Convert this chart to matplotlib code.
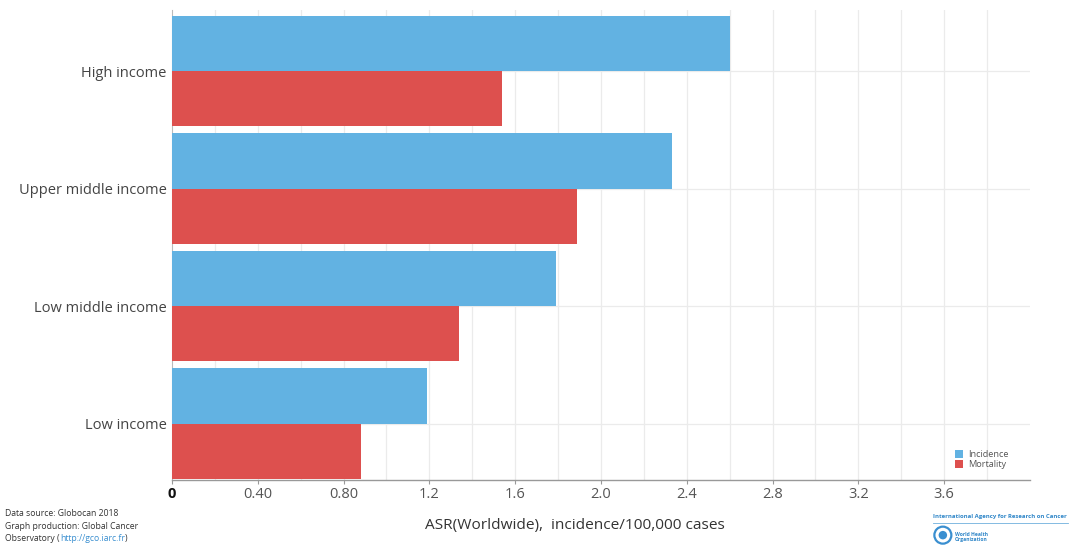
import matplotlib
matplotlib.use("Agg")
import matplotlib.pyplot as plt
import numpy as np
from matplotlib.patches import Ellipse

plt.rcParams['font.family'] = ['Open Sans', 'DejaVu Sans']

categories = ["High income", "Upper middle income", "Low middle income", "Low income"]
incidence = [2.60, 2.33, 1.79, 1.19]
mortality = [1.54, 1.89, 1.34, 0.88]
xtick_values = [0, 0.4, 0.8, 1.2, 1.6, 2.0, 2.4, 2.8, 3.2, 3.6]
xtick_labels = ["0", "0.40", "0.80", "1.2", "1.6", "2.0", "2.4", "2.8", "3.2", "3.6"]

BLUE = "#62b2e2"
RED = "#dd504e"
GRID = "#ebebeb"

W, H = 1069, 550
fig = plt.figure(figsize=(W / 100, H / 100), dpi=100)
ax = fig.add_axes([0.1609, 0.1273, 0.8026, 0.8545])

n = len(categories)
ypos = np.arange(n)[::-1]  # first category on top
h = 0.47
ax.barh(ypos + h / 2, incidence, height=h, color=BLUE, zorder=3, label="Incidence")
ax.barh(ypos - h / 2, mortality, height=h, color=RED, zorder=3, label="Mortality")

ax.set_xlim(0, 4.0)
ax.set_ylim(-0.48, n - 0.48)

# grid: vertical every 0.2, horizontal at category centres
for xv in np.arange(0.2, 4.0, 0.2):
    ax.axvline(xv, color=GRID, lw=0.9, zorder=1)
for yv in ypos:
    ax.axhline(yv, color=GRID, lw=0.9, zorder=1)

ax.set_xticks(xtick_values)
ax.set_xticklabels(xtick_labels)
ax.tick_params(axis='x', length=3, width=0.8, color="#999999", labelsize=10.5,
               labelcolor="#555555", pad=2)
ax.get_xticklabels()[0].set_fontweight("bold")
ax.get_xticklabels()[0].set_color("#111111")

ax.set_yticks(ypos)
ax.set_yticklabels(categories)
ax.tick_params(axis='y', length=0, labelsize=10.5, labelcolor="#444444", pad=4)

for s in ["top", "right"]:
    ax.spines[s].set_visible(False)
ax.spines["left"].set_color("#bbbbbb")
ax.spines["left"].set_linewidth(0.8)
ax.spines["bottom"].set_color("#999999")
ax.spines["bottom"].set_linewidth(1.0)

fig.text(575 / W, 1 - 525 / H, "ASR(Worldwide),  incidence/100,000 cases",
         fontsize=11.1, color="#333333", ha="center", va="center")

leg = ax.legend(loc="lower right", bbox_to_anchor=(0.985, 0.005), frameon=False,
                fontsize=6.6, handlelength=0.9, handleheight=0.9, handletextpad=0.6,
                labelspacing=0.15)
for t in leg.get_texts():
    t.set_color("#555555")

# source note
note_kw = dict(fontsize=6.2)
fig.text(0.005, 0.062, "Data source: Globocan 2018", color="#333333", **note_kw)
fig.text(0.005, 0.039, "Graph production: Global Cancer", color="#333333", **note_kw)
renderer = fig.canvas.get_renderer()
x0 = 0.005
for part, col in [("Observatory (", "#333333"), ("http://gco.iarc.fr", "#3a8fd0"),
                  (")", "#333333")]:
    t = fig.text(x0, 0.016, part, color=col, **note_kw)
    bb = t.get_window_extent(renderer=renderer)
    x0 = bb.x1 / fig.bbox.width

# agency credit
fig.text(0.873, 0.058, "International Agency for Research on Cancer", fontsize=4.3,
         color="#2f86c8", fontweight="bold")
fig.add_artist(plt.Line2D([0.873, 0.999], [0.05, 0.05], color="#6fb0dd", lw=0.6,
                          transform=fig.transFigure))
r_px = 8.5
fig.add_artist(Ellipse((0.882, 0.027), 2 * r_px / W, 2 * r_px / H,
                       transform=fig.transFigure, facecolor="none",
                       edgecolor="#3a8fd0", lw=1.6))
fig.add_artist(Ellipse((0.882, 0.027), 1.0 * r_px / W, 1.0 * r_px / H,
                       transform=fig.transFigure, facecolor="#3a8fd0",
                       edgecolor="none"))
fig.text(0.893, 0.017, "World Health\nOrganization", fontsize=3.6, color="#2f86c8",
         fontweight="bold", linespacing=0.9)

fig.savefig("out.png", dpi=100, facecolor="white")
